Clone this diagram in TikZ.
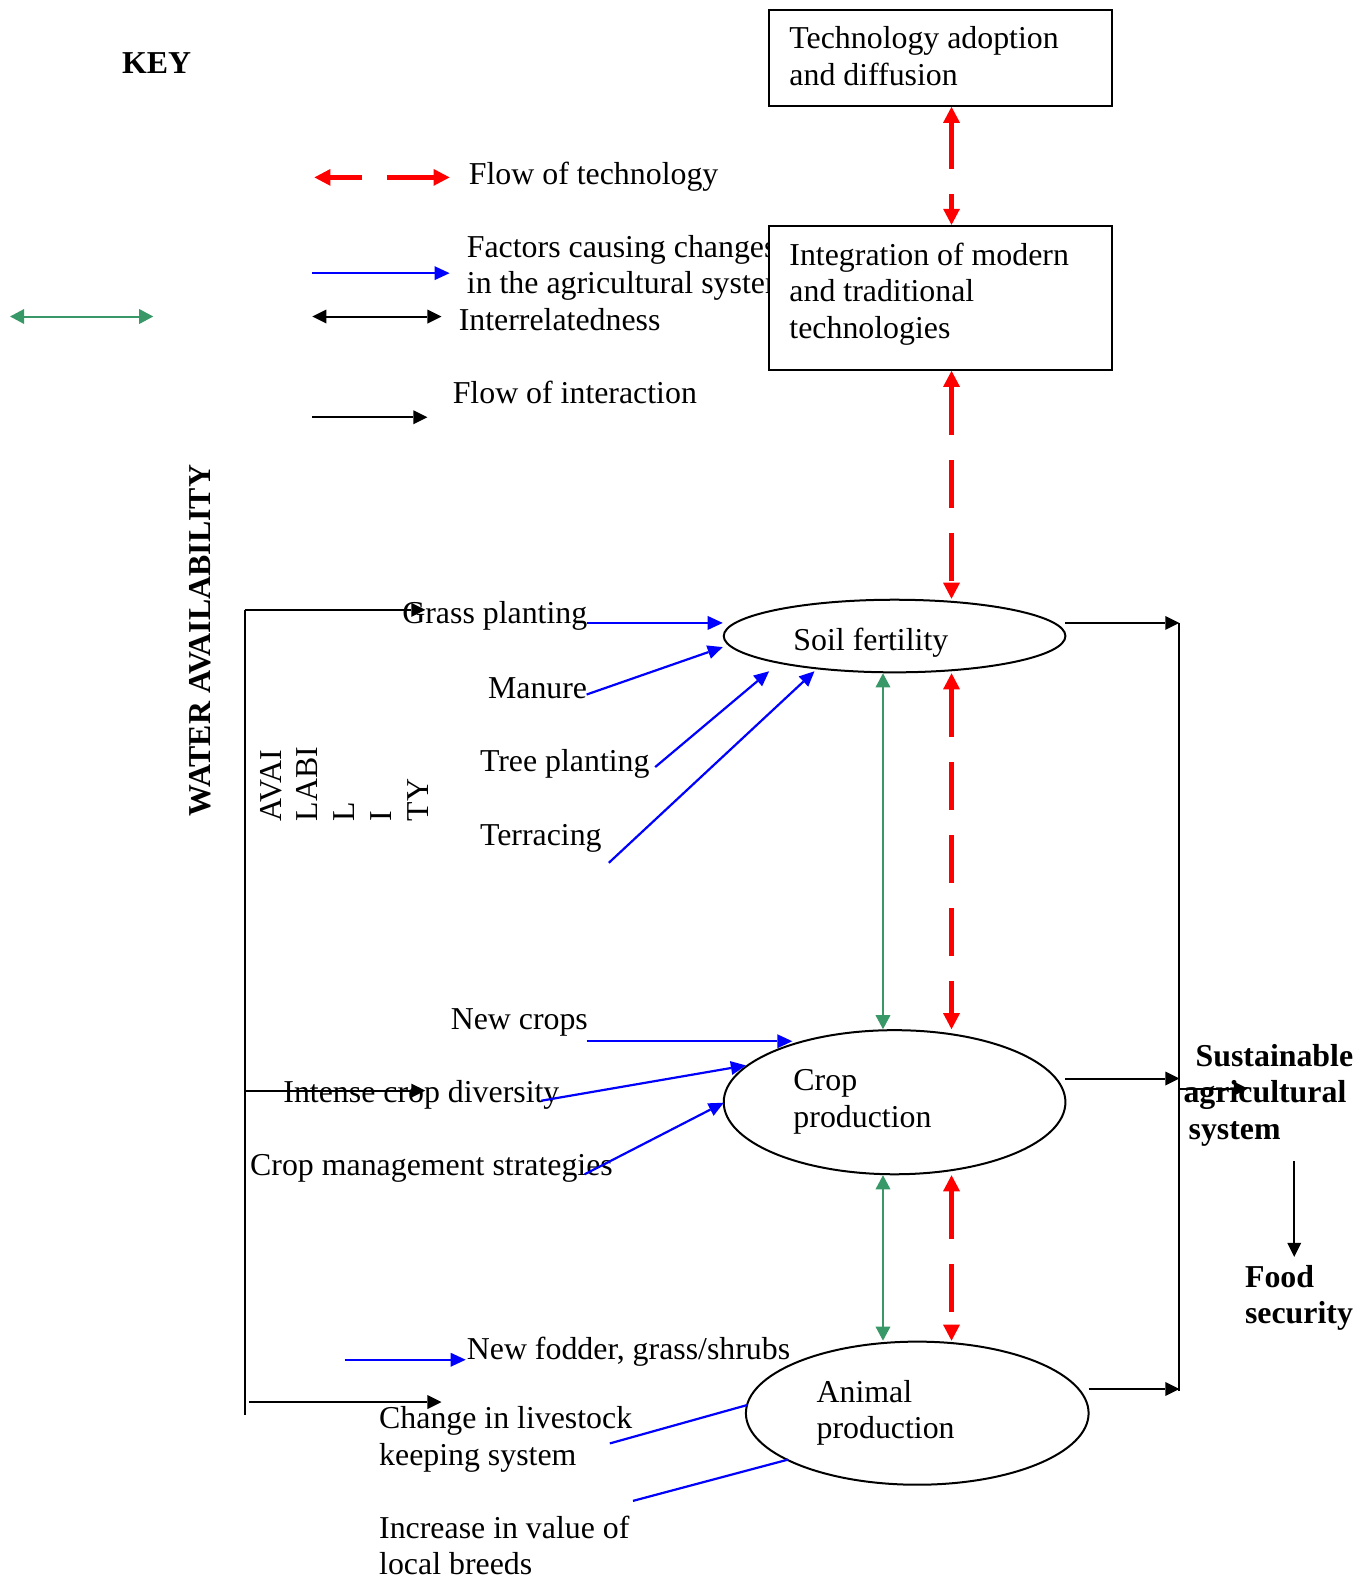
\documentclass[tikz,border=0pt]{standalone}
\usepackage{fontspec}
\setmainfont{Liberation Serif}
\usetikzlibrary{arrows.meta,shapes.geometric}
\definecolor{tred}{RGB}{255,0,0}
\definecolor{tblue}{RGB}{0,0,255}
\definecolor{tgreen}{RGB}{56,152,104}
\tikzset{
  txt/.style={font=\fontsize{31.85}{36.8}\selectfont, inner sep=0pt, anchor=base west, align=left},
  btxt/.style={txt, font=\fontsize{31.85}{36.8}\selectfont\bfseries},
  rtip/.tip={Triangle[length=16pt,width=17pt,line width=0pt]},
  redarr/.style={draw=tred, line width=5pt, dash pattern=on 48pt off 25pt, rtip-rtip},
  btip/.tip={Triangle[length=15pt,width=14pt,line width=0pt]},
  bluearr/.style={draw=tblue, line width=2.2pt, -btip},
  blueln/.style={draw=tblue, line width=2.2pt},
  ktip/.tip={Triangle[length=14pt,width=14pt,line width=0pt]},
  blk/.style={draw=black, line width=2pt},
  blkarr/.style={blk, -ktip},
  blkdbl/.style={blk, ktip-ktip},
  gtip/.tip={Triangle[length=14pt,width=15pt,line width=0pt]},
  grnarr/.style={draw=tgreen, line width=2pt, gtip-gtip},
  boxst/.style={draw, line width=2pt, fill=white, rectangle, inner sep=0pt},
  ell/.style={draw, line width=2pt, ellipse, inner sep=0pt}
}
\begin{document}
\begin{tikzpicture}[x=1.008pt,y=-1.008pt]
\useasboundingbox (0,0) rectangle (1358.1,1568.5);

% ---------- key ----------
\node[btxt] (key) at (121,73) {KEY};
\coordinate (k1a) at (312,176); \coordinate (k1b) at (446,176);
\draw[redarr, dash pattern=on 32pt off 25pt on 60pt] (k1a) -- (k1b);
\node[txt] (kflow) at (465,183) {Flow of technology};
\node[txt] (kfac) at (463,291.5) {Factors causing changes\\in the agricultural system};
\coordinate (k2a) at (310,271); \coordinate (k2b) at (446,271);
\draw[bluearr] (k2a) -- (k2b);
\coordinate (k3a) at (10,314); \coordinate (k3b) at (152,314);
\draw[grnarr] (k3a) -- (k3b);
\coordinate (k4a) at (310,314); \coordinate (k4b) at (438,314);
\draw[blkdbl] (k4a) -- (k4b);
\node[txt] (kint) at (455,328) {Interrelatedness};
\coordinate (k5a) at (310,414); \coordinate (k5b) at (424,414);
\draw[blkarr] (k5a) -- (k5b);
\node[txt] (kfi) at (449,400) {Flow of interaction};

% ---------- boxes ----------
\node[boxst, minimum width=342.7pt, minimum height=95.8pt] (box1) at (933,57.5) {};
\node[txt] (box1t) at (783,84.5) {Technology adoption\\and diffusion};
\node[boxst, minimum width=342.7pt, minimum height=144.1pt] (box2) at (933,295.5) {};
\node[txt] (box2t) at (783,336) {Integration of modern\\and traditional\\technologies};

% ---------- ellipses ----------
\node[ell, minimum width=341.7pt, minimum height=72.6pt] (soil) at (887.5,631) {};
\node[txt] (soilt) at (787,645) {Soil fertility};
\node[ell, minimum width=341.7pt, minimum height=144.1pt] (crop) at (887.5,1093.5) {};
\node[txt] (cropt) at (787,1118.5) {Crop\\production};
\node[ell, minimum width=342.7pt, minimum height=143.1pt] (animal) at (910,1402) {};
\node[txt] (animalt) at (810,1427.5) {Animal\\production};

% ---------- technology flow and interrelatedness ----------
\coordinate (rx) at (944,0); \coordinate (gx) at (876,0);
\draw[redarr, dash pattern=on 46pt off 25pt on 48pt off 25pt] (box1.south -| rx) -- (box2.north -| rx);
\draw[redarr] (box2.south -| rx) -- (soil.north -| rx);
\draw[redarr] (soil.south -| rx) -- (crop.north -| rx);
\draw[redarr] (crop.south -| rx) -- (animal.north -| rx);
\draw[grnarr] (soil.south -| gx) -- (crop.north -| gx);
\draw[grnarr] (crop.south -| gx) -- (animal.north -| gx);

% ---------- factor texts ----------
\node[txt] (grass) at (399,619) {Grass planting};
\node[txt] (manure) at (484,693) {Manure};
\node[txt] (tree) at (476,765) {Tree planting};
\node[txt] (terr) at (476,839) {Terracing};
\node[txt] (newc) at (447,1021) {New crops};
\node[txt] (intense) at (281,1094) {Intense crop diversity};
\node[txt] (cms) at (248,1166) {Crop management strategies};
\node[txt] (fodder) at (463,1349) {New fodder, grass/shrubs};
\node[txt] (change) at (376,1453.5) {Change in livestock\\keeping system};
\node[txt] (incr) at (376,1562.5) {Increase in value of\\local breeds};

\node[btxt, rotate=90] (water) at (209,810) {WATER AVAILABILITY};
\node[txt, rotate=90] (avail) at (425,815) {AVAI\\LABI\\L\\I\\TY};

% ---------- blue factor arrows ----------
\coordinate (b1a) at (582,618);  \coordinate (b1b) at (717,618);
\coordinate (b2a) at (582,689);  \coordinate (b2b) at (717,642);
\coordinate (b3a) at (650,761);  \coordinate (b3b) at (763,666);
\coordinate (b4a) at (604,856);  \coordinate (b4b) at (808,666);
\coordinate (b5a) at (582,1033); \coordinate (b5b) at (786,1033);
\coordinate (b6a) at (537,1092); \coordinate (b6b) at (740,1057);
\coordinate (b7a) at (580,1165); \coordinate (b7b) at (718,1094);
\coordinate (b8a) at (342,1349); \coordinate (b8b) at (462,1349);
\coordinate (b9a) at (605,1432); \coordinate (b9b) at (741,1394);
\coordinate (b10a) at (628,1489); \coordinate (b10b) at (782,1448);
\draw[bluearr] (b1a) -- (b1b);
\draw[bluearr] (b2a) -- (b2b);
\draw[bluearr] (b3a) -- (b3b);
\draw[bluearr] (b4a) -- (b4b);
\draw[bluearr] (b5a) -- (b5b);
\draw[bluearr] (b6a) -- (b6b);
\draw[bluearr] (b7a) -- (b7b);
\draw[bluearr] (b8a) -- (b8b);
\draw[blueln] (b9a) -- (b9b);
\draw[blueln] (b10a) -- (b10b);

% ---------- water availability bracket ----------
\coordinate (w1) at (243,605); \coordinate (w2) at (243,1404);
\coordinate (w1e) at (422,605);
\coordinate (w3) at (243,1082); \coordinate (w3e) at (422,1082);
\coordinate (w4) at (247,1391); \coordinate (w4e) at (438,1391);
\draw[blk] (w1) -- (w2);
\draw[blkarr] (w1) -- (w1e);
\draw[blkarr] (w3) -- (w3e);
\draw[blkarr] (w4) -- (w4e);

% ---------- outputs ----------
\node[btxt] (sust1) at (1186,1058) {Sustainable};
\node[btxt] (sust2) at (1174,1094) {agricultural};
\node[btxt] (sust3) at (1179,1130) {system};
\node[btxt] (food) at (1235,1313.5) {Food\\security};
\coordinate (r1a) at (1057,618);  \coordinate (r1b) at (1170,618);
\coordinate (r2a) at (1057,1070); \coordinate (r2b) at (1170,1070);
\coordinate (r3a) at (1080,1378); \coordinate (r3b) at (1170,1378);
\coordinate (rend) at (1170,1380);
\draw[blk] (r1b) -- (rend);
\draw[blkarr] (r1a) -- (r1b);
\draw[blkarr] (r2a) -- (r2b);
\draw[blkarr] (r3a) -- (r3b);
\coordinate (sa) at (1170,1080); \coordinate (sb) at (1238,1080);
\draw[blkarr] (sa) -- (sb);
\coordinate (fa) at (1284,1152); \coordinate (fb) at (1284,1247);
\draw[blkarr] (fa) -- (fb);
\end{tikzpicture}
\end{document}
